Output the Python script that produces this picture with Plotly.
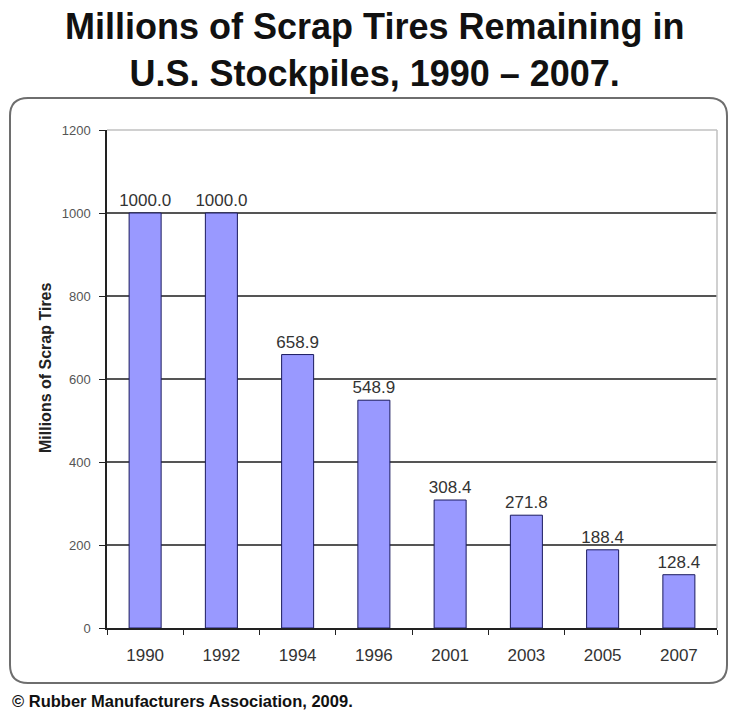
import plotly.graph_objects as go

years = ["1990", "1992", "1994", "1996", "2001", "2003", "2005", "2007"]
tires = [1000.0, 1000.0, 658.9, 548.9, 308.4, 271.8, 188.4, 128.4]
y_ticks = [0, 200, 400, 600, 800, 1000, 1200]

W, H = 730, 713
L, R, T, B = 107, 13, 130, 85
PW, PH = W - L - R, H - T - B

def px(x):
    return (x - L) / PW

def py(y):
    return (H - B - y) / PH

SANS = "Liberation Sans, Arial, sans-serif"

fig = go.Figure(go.Bar(
    x=years, y=tires,
    marker=dict(color="#9999FF", line=dict(color="#1a1a5e", width=1)),
    texttemplate="%{y:.1f}", textposition="outside", constraintext="none",
    textfont=dict(family=SANS, size=17, color="#333333"),
    cliponaxis=False, width=0.42,
))

# rounded frame around chart
x0, x1, y0, y1, r = 10, 727, 98, 683, 18
rx, ry = r / PW, r / PH
path = (f"M {px(x0)+rx},{py(y0)} L {px(x1)-rx},{py(y0)} Q {px(x1)},{py(y0)} {px(x1)},{py(y0)-ry} "
        f"L {px(x1)},{py(y1)+ry} Q {px(x1)},{py(y1)} {px(x1)-rx},{py(y1)} "
        f"L {px(x0)+rx},{py(y1)} Q {px(x0)},{py(y1)} {px(x0)},{py(y1)+ry} "
        f"L {px(x0)},{py(y0)-ry} Q {px(x0)},{py(y0)} {px(x0)+rx},{py(y0)} Z")

shapes = [
    dict(type="path", path=path, xref="paper", yref="paper",
         line=dict(color="#6e6e6e", width=2), layer="below"),
    dict(type="line", xref="paper", yref="paper", x0=0, x1=1, y0=1, y1=1,
         line=dict(color="#c0c0c0", width=1.5), layer="above"),
    dict(type="line", xref="paper", yref="paper", x0=1, x1=1, y0=0, y1=1,
         line=dict(color="#c0c0c0", width=1.5), layer="above"),
]

annotations = [
    dict(text="<b>Millions of Scrap Tires Remaining in<br>U.S. Stockpiles, 1990 \u2013 2007.</b>",
         xref="paper", yref="paper", x=px(374), y=py(50), xanchor="center", yanchor="middle",
         showarrow=False, font=dict(family=SANS, size=36, color="#111111")),
    dict(text="<b>Millions of Scrap Tires</b>", textangle=-90,
         xref="paper", yref="paper", x=px(45), y=py(368), xanchor="center", yanchor="middle",
         showarrow=False, font=dict(family=SANS, size=16, color="#222222")),
    dict(text="<b>\u00a9 Rubber Manufacturers Association, 2009.</b>",
         xref="paper", yref="paper", x=px(10), y=py(701), xanchor="left", yanchor="middle",
         showarrow=False, font=dict(family=SANS, size=16.5, color="#111111")),
]

fig.update_layout(
    width=W, height=H,
    margin=dict(l=L, r=R, t=T, b=B, pad=0),
    paper_bgcolor="white", plot_bgcolor="white",
    showlegend=False,
    shapes=shapes, annotations=annotations,
    xaxis=dict(type="category", tickson="boundaries", ticks="outside", ticklen=5,
               tickcolor="#222222", showline=True, linecolor="#222222", linewidth=1.5,
               ticklabelstandoff=11,
               tickfont=dict(family=SANS, size=17, color="#333333"), showgrid=False),
    yaxis=dict(range=[0, 1200], tickvals=y_ticks, ticks="outside", ticklen=6,
               tickcolor="#222222", showline=True, linecolor="#222222", linewidth=1.5,
               showgrid=True, gridcolor="#555555", gridwidth=1.5, zeroline=False,
               ticklabelstandoff=6,
               tickfont=dict(family=SANS, size=13, color="#555555")),
)

fig.write_html("out.html")
